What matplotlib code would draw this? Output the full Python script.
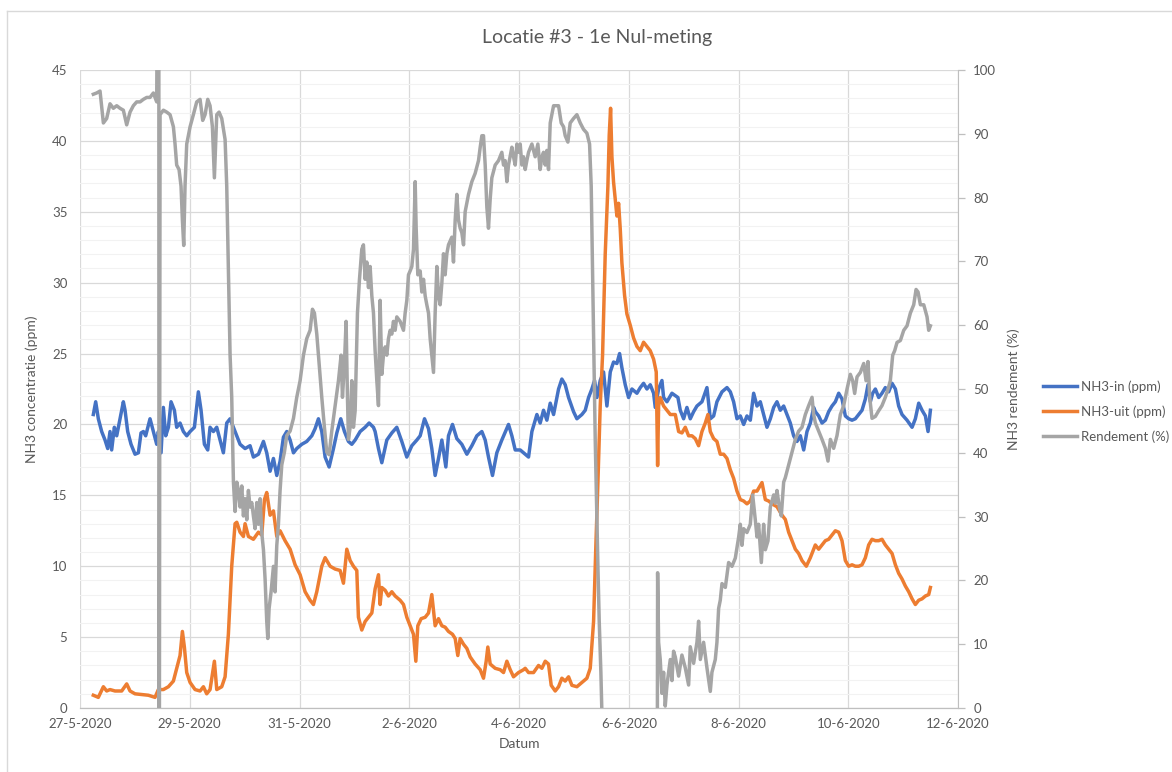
import matplotlib
matplotlib.use("Agg")
import matplotlib.pyplot as plt
from matplotlib.lines import Line2D
from matplotlib.ticker import MultipleLocator, FuncFormatter
import pandas as pd

plt.rcParams['font.family'] = ['Lato', 'DejaVu Sans']

# ---------------------------------------------------------------
# data (days after 27-5-2020 00:00)
# ---------------------------------------------------------------
start = pd.Timestamp('2020-05-27')

t_in = [0.243, 0.286, 0.334, 0.395, 0.456, 0.505, 0.547, 0.577, 0.626, 0.669, 0.729, 0.790, 0.821,
        0.869, 0.930, 1.003, 1.064, 1.112, 1.155, 1.197, 1.276, 1.337, 1.398, 1.428, 1.477, 1.519,
        1.562, 1.611, 1.659, 1.720, 1.762, 1.823, 1.884, 1.945, 2.006, 2.085, 2.157, 2.206, 2.267,
        2.328, 2.370, 2.431, 2.492, 2.552, 2.613,
        2.674, 2.735, 2.826, 2.917, 3.008, 3.099, 3.160, 3.252, 3.343, 3.403, 3.464, 3.525, 3.586,
        3.646, 3.707, 3.768, 3.829, 3.890, 3.950, 4.041, 4.132, 4.224, 4.284, 4.345, 4.406, 4.467,
        4.540, 4.619, 4.680, 4.752, 4.819, 4.892, 4.953, 5.014, 5.105, 5.196, 5.269, 5.348,
        5.378, 5.439, 5.500, 5.591, 5.682, 5.773, 5.864, 5.955, 6.047, 6.138, 6.199, 6.278, 6.351,
        6.411, 6.472, 6.533, 6.594, 6.667, 6.715, 6.788, 6.867, 6.958, 7.050, 7.141, 7.232, 7.323,
        7.384, 7.444, 7.517, 7.596, 7.687, 7.809, 7.870, 7.931, 8.022,
        8.113, 8.174, 8.235, 8.326, 8.386, 8.447, 8.508, 8.569, 8.630, 8.721, 8.781, 8.842, 8.903,
        8.994, 9.055, 9.146, 9.207, 9.268, 9.328, 9.377, 9.420, 9.480, 9.541, 9.602, 9.663, 9.723,
        9.784, 9.833, 9.875, 9.936, 9.997, 10.058, 10.149, 10.210, 10.270, 10.331, 10.392, 10.453,
        10.483, 10.544, 10.605, 10.635, 10.696, 10.787,
        10.896, 10.939, 11.000, 11.060, 11.121, 11.182, 11.243, 11.334, 11.425, 11.486, 11.547,
        11.607, 11.699, 11.790, 11.851, 11.911, 11.972, 12.033, 12.094, 12.154, 12.215, 12.276,
        12.337, 12.397, 12.458, 12.519, 12.580, 12.641, 12.701, 12.762, 12.823, 12.884, 12.944,
        13.005, 13.066, 13.127, 13.188, 13.248, 13.309, 13.370,
        13.400, 13.461, 13.522, 13.583, 13.643, 13.704, 13.765, 13.826, 13.886, 13.947, 14.008,
        14.069, 14.129, 14.190, 14.251, 14.312, 14.360, 14.403, 14.445, 14.494, 14.555, 14.615,
        14.676, 14.737, 14.798, 14.859, 14.919, 14.980, 15.071, 15.163, 15.223, 15.284, 15.345,
        15.406, 15.454, 15.497]
nh3_in = [20.7, 21.6, 20.4, 19.5, 18.9, 18.3, 19.5, 18.2, 19.8, 19.2, 20.4, 21.6, 21.0,
          19.5, 18.6, 17.9, 18.0, 19.4, 19.5, 19.2, 20.4, 19.5, 18.6, 19.5, 18.0, 21.2,
          19.2, 19.8, 21.6, 21.0, 19.8, 20.1, 19.5, 19.2, 19.5, 19.8, 22.3, 21.0, 18.6,
          18.2, 19.8, 19.5, 19.8, 18.9, 18.0,
          20.1, 20.4, 19.5, 18.6, 18.3, 18.5, 17.7, 17.9, 18.8, 18.0, 16.7, 17.6, 16.4,
          17.4, 19.1, 19.5, 18.9, 18.0, 18.3, 18.6, 18.8, 19.2, 19.7, 20.4, 19.5, 17.7,
          17.0, 18.3, 19.4, 20.4, 19.5, 18.8, 18.6, 18.9, 19.5, 19.8, 20.1, 19.8,
          19.5, 18.3, 17.3, 18.9, 19.4, 19.8, 18.8, 17.7, 18.5, 18.9, 19.2, 20.4, 19.7,
          18.3, 16.4, 17.6, 18.9, 17.0, 19.2, 20.0, 19.0, 18.6, 17.9, 18.5, 19.2, 19.5,
          18.9, 17.7, 16.4, 18.0, 18.9, 20.0, 19.2, 18.2, 18.2,
          17.9, 17.7, 19.5, 20.7, 20.1, 21.0, 20.3, 21.5, 20.7, 22.5, 23.2, 22.8, 21.9,
          20.9, 20.4, 20.7, 21.0, 21.9, 22.5, 23.1, 21.9, 23.1, 23.7, 21.3, 23.7, 24.4,
          24.3, 25.0, 24.0, 22.8, 21.9, 22.5, 22.2, 22.6, 22.9, 22.5, 22.8, 22.2,
          21.2, 22.5, 23.1, 21.9, 21.6, 22.2,
          21.9, 21.0, 20.4, 21.2, 20.4, 20.9, 21.3, 21.6, 22.6, 20.4, 20.6,
          21.6, 22.3, 22.6, 22.3, 21.6, 20.4, 20.6, 20.0, 20.6, 20.3, 22.2,
          21.3, 21.6, 20.7, 19.8, 20.4, 21.2, 21.6, 21.0, 21.3, 20.7, 20.1,
          19.2, 18.8, 19.2, 18.2, 19.5, 20.1, 21.2,
          20.9, 20.6, 20.1, 20.3, 20.9, 21.3, 21.6, 22.2, 21.8, 20.6, 20.4,
          20.3, 20.4, 20.7, 21.0, 21.8, 22.8, 21.6, 22.2, 22.5, 21.9, 22.2,
          22.6, 22.3, 22.9, 22.5, 21.3, 20.7, 20.3, 19.8, 20.4, 21.5, 21.0,
          20.6, 19.5, 21.0]

t_uit = [0.243, 0.334, 0.426, 0.486, 0.547, 0.638, 0.760, 0.851, 0.912, 1.003, 1.124, 1.246,
         1.367, 1.428, 1.519, 1.611, 1.702, 1.762, 1.823, 1.866, 1.902, 1.945, 2.006, 2.097,
         2.188, 2.249, 2.309, 2.370, 2.449, 2.492, 2.583,
         2.644, 2.704, 2.765, 2.826, 2.857, 2.917, 2.978, 3.008, 3.069, 3.160, 3.251, 3.312,
         3.361, 3.403, 3.464, 3.525, 3.586, 3.646, 3.737, 3.829, 3.920, 4.011, 4.102, 4.193,
         4.254, 4.315, 4.406, 4.467, 4.558, 4.649, 4.740, 4.801, 4.862, 4.923, 4.983, 5.044,
         5.074, 5.135, 5.196, 5.257, 5.318,
         5.378, 5.439, 5.469, 5.500, 5.561, 5.621, 5.682, 5.743, 5.834, 5.895, 5.956, 6.016,
         6.077, 6.120, 6.156, 6.217, 6.290, 6.351, 6.411, 6.472, 6.533, 6.594, 6.654, 6.715,
         6.788, 6.837, 6.885, 6.928, 6.989, 7.050, 7.110, 7.201, 7.293, 7.353, 7.402, 7.432,
         7.475, 7.566, 7.657, 7.718, 7.779, 7.840, 7.900, 7.991, 8.082,
         8.113, 8.174, 8.265, 8.356, 8.417, 8.478, 8.538, 8.587, 8.660, 8.721, 8.781, 8.842,
         8.903, 8.964, 9.055, 9.146, 9.237, 9.298, 9.359, 9.401, 9.438, 9.480, 9.523, 9.571,
         9.620, 9.644, 9.669, 9.693, 9.723, 9.754, 9.784, 9.815, 9.845, 9.875, 9.924, 9.966,
         10.027, 10.088, 10.149, 10.210, 10.270, 10.331, 10.392, 10.453, 10.501, 10.526,
         10.544, 10.574, 10.635, 10.696, 10.757,
         10.848, 10.909, 10.969, 11.030, 11.091, 11.152, 11.212, 11.273, 11.334, 11.395,
         11.443, 11.486, 11.547, 11.607, 11.668, 11.729, 11.790, 11.851, 11.911, 11.972,
         12.033, 12.094, 12.154, 12.215, 12.276, 12.337, 12.428, 12.489, 12.549, 12.610,
         12.701, 12.793, 12.853, 12.914, 12.975, 13.036, 13.096, 13.157, 13.236, 13.309, 13.370,
         13.400, 13.461, 13.522, 13.583, 13.643, 13.704, 13.765, 13.826, 13.886, 13.947,
         14.008, 14.069, 14.129, 14.190, 14.251, 14.312, 14.372, 14.433, 14.494, 14.555,
         14.615, 14.676, 14.737, 14.798, 14.859, 14.919, 14.980, 15.041, 15.102, 15.163,
         15.223, 15.284, 15.345, 15.406, 15.466, 15.497]
nh3_uit = [0.9, 0.75, 1.5, 1.2, 1.3, 1.2, 1.2, 1.7, 1.2, 1.0, 0.95, 0.9,
           0.75, 1.3, 1.3, 1.5, 1.9, 2.8, 3.7, 5.4, 4.3, 2.5, 1.8, 1.3,
           1.2, 1.5, 1.0, 1.3, 3.3, 1.3, 1.5,
           2.2, 5.2, 10.0, 13.0, 13.1, 12.4, 12.1, 13.0, 12.1, 11.9, 12.4, 12.2,
           14.7, 15.2, 13.6, 13.9, 12.1, 12.5, 11.8, 11.2, 10.1, 9.4, 8.2, 7.6,
           7.3, 8.2, 10.0, 10.6, 10.0, 9.8, 9.7, 8.8, 11.2, 10.4, 10.0, 9.7,
           6.4, 5.5, 6.1, 6.4, 6.7,
           8.4, 9.4, 7.3, 8.5, 8.3, 7.9, 8.2, 7.9, 7.6, 7.3, 6.4, 5.8,
           5.2, 3.3, 5.8, 6.3, 6.4, 6.7, 8.0, 5.8, 6.3, 5.8, 5.7, 5.4,
           5.2, 4.9, 3.7, 4.9, 4.5, 4.2, 3.6, 3.1, 2.7, 2.1, 3.3, 4.3,
           3.1, 2.8, 2.7, 2.5, 3.3, 2.7, 2.2, 2.5, 2.7,
           2.8, 2.5, 2.5, 3.0, 2.8, 3.3, 3.1, 1.6, 1.2, 1.5, 2.1, 1.9,
           2.2, 1.6, 1.5, 1.8, 2.1, 2.8, 6.1, 11.5, 15.9, 21.3, 24.9, 32.0,
           36.8, 40.4, 42.3, 38.9, 37.1, 35.9, 34.7, 35.6, 33.8, 31.4, 29.1, 27.8,
           27.0, 26.1, 25.5, 25.2, 25.8, 25.5, 25.2, 24.6, 23.7, 17.1,
           21.3, 21.9, 21.3, 21.0, 20.7,
           20.7, 19.5, 19.4, 19.8, 19.2, 19.2, 19.0, 18.5, 19.5, 20.1,
           20.7, 19.5, 19.0, 18.8, 17.9, 17.9, 17.6, 16.8, 16.2, 15.3,
           14.7, 14.6, 14.4, 14.6, 15.3, 15.3, 15.9, 14.7, 14.6, 14.4,
           14.2, 13.6, 13.3, 12.4, 11.8, 11.2, 10.9, 10.4, 10.0, 10.6, 11.2,
           11.5, 11.2, 11.5, 11.8, 11.9, 12.2, 12.5, 12.4, 11.8, 10.4,
           10.0, 10.1, 10.0, 10.0, 10.1, 10.6, 11.5, 11.9, 11.8, 11.8,
           11.9, 11.5, 11.2, 10.9, 10.1, 9.5, 9.1, 8.6, 8.2, 7.7,
           7.3, 7.6, 7.7, 7.9, 8.0, 8.5]

# rendement (%); values outside 0-100 run off the axis as in the original
t_rend = [0.243, 0.304, 0.365, 0.426, 0.486, 0.547, 0.608, 0.669, 0.729, 0.790, 0.851, 0.912,
          0.972, 1.033, 1.094, 1.155, 1.216, 1.276, 1.337, 1.398, 1.436, 1.440, 1.459, 1.519,
          1.580, 1.641, 1.702, 1.732, 1.762, 1.805, 1.841, 1.866, 1.890, 1.914, 1.945, 2.006,
          2.066, 2.127, 2.188, 2.236, 2.279, 2.328, 2.370, 2.413, 2.449, 2.492, 2.534, 2.583,
          2.644, 2.674, 2.704, 2.735, 2.765, 2.796, 2.826, 2.857, 2.887, 2.917, 2.948, 2.978,
          3.008, 3.039, 3.069, 3.099, 3.130, 3.160, 3.191, 3.221, 3.251, 3.282, 3.312, 3.343,
          3.373, 3.403, 3.422, 3.446, 3.482, 3.525, 3.555, 3.586, 3.616, 3.646, 3.677, 3.725,
          3.768, 3.829, 3.890, 3.950, 4.011, 4.072, 4.132, 4.193, 4.236, 4.272, 4.315, 4.357,
          4.406, 4.454, 4.497, 4.540, 4.588, 4.649, 4.710, 4.758, 4.783, 4.819, 4.849, 4.874,
          4.892, 4.923, 4.953, 4.983, 5.014, 5.056, 5.093, 5.135, 5.165, 5.196, 5.226, 5.257,
          5.287, 5.318, 5.348,
          5.378, 5.409, 5.439, 5.469, 5.500, 5.530, 5.561, 5.591, 5.621, 5.652, 5.682, 5.712,
          5.743, 5.773, 5.834, 5.895, 5.925, 5.956, 5.986, 6.016, 6.047, 6.077, 6.108, 6.126,
          6.156, 6.199, 6.229, 6.260, 6.290, 6.320, 6.351, 6.381, 6.411, 6.442, 6.472, 6.503,
          6.533, 6.563, 6.594, 6.624, 6.654, 6.685, 6.715, 6.745, 6.776, 6.806, 6.837, 6.867,
          6.897, 6.928, 6.958, 6.989, 7.019, 7.080, 7.141, 7.201, 7.262, 7.293, 7.323, 7.353,
          7.384, 7.414, 7.444, 7.475, 7.505, 7.566, 7.627, 7.687, 7.718, 7.748, 7.779, 7.809,
          7.870, 7.900, 7.931, 7.961, 7.991, 8.022, 8.052, 8.082,
          8.113, 8.143, 8.174, 8.235, 8.295, 8.344, 8.386, 8.417, 8.447, 8.478, 8.508, 8.538,
          8.569, 8.599, 8.630, 8.672, 8.721, 8.769, 8.812, 8.842, 8.891, 8.933, 8.994, 9.055,
          9.116, 9.176, 9.237, 9.286, 9.316, 9.341, 9.365, 9.389, 9.413, 9.438, 9.462, 9.492,
          9.523, 9.600, 10.000, 10.520, 10.526, 10.544, 10.574, 10.605, 10.635, 10.665, 10.696,
          10.726, 10.757, 10.787, 10.817,
          10.848, 10.909, 10.969, 11.030, 11.091, 11.121, 11.182, 11.243, 11.273, 11.304,
          11.364, 11.425, 11.486, 11.516, 11.577, 11.607, 11.638, 11.668, 11.699, 11.760,
          11.790, 11.820, 11.881, 11.942, 12.003, 12.033, 12.063, 12.094, 12.154, 12.215,
          12.258, 12.306, 12.337, 12.367, 12.416, 12.458, 12.489, 12.537, 12.580, 12.641,
          12.671, 12.701, 12.744, 12.780, 12.823, 12.853, 12.914, 12.975, 13.036, 13.096,
          13.157, 13.218, 13.279, 13.340, 13.370,
          13.400, 13.461, 13.522, 13.583, 13.631, 13.674, 13.734, 13.795, 13.856, 13.917,
          13.978, 14.038, 14.081, 14.117, 14.160, 14.221, 14.282, 14.324, 14.360, 14.391,
          14.433, 14.494, 14.555, 14.615, 14.676, 14.725, 14.767, 14.810, 14.846, 14.889,
          14.950, 15.011, 15.071, 15.132, 15.193, 15.236, 15.272, 15.315, 15.376, 15.436,
          15.466, 15.497]
rendement = [96.2, 96.4, 96.7, 91.7, 92.4, 94.7, 94.0, 94.4, 94.0, 93.7, 91.4, 93.4,
             94.4, 95.0, 95.0, 95.4, 95.7, 95.7, 96.4, 95.0, 160.0, -60.0, 93.0, 93.7,
             93.4, 93.0, 91.1, 88.4, 85.1, 84.4, 81.8, 76.5, 72.5, 81.8, 88.4, 91.1,
             93.0, 95.0, 95.4, 92.1, 93.0, 95.4, 94.4, 91.1, 83.1, 93.0, 93.4, 92.4,
             89.1, 81.8, 68.5, 55.3, 48.7, 35.4, 30.8, 35.4, 34.1, 31.5, 34.8, 30.1,
             32.8, 29.5, 34.1, 31.5, 32.2, 30.1, 28.1, 32.2, 28.8, 32.8, 27.5, 24.8,
             20.2, 13.6, 10.9, 15.6, 18.2, 22.2, 18.2, 25.5, 28.8, 34.1, 38.1, 40.1,
             42.7, 43.4, 45.4, 48.7, 51.3, 55.3, 57.9, 59.2, 62.5, 61.9, 58.6, 54.0,
             48.7, 44.0, 40.1, 39.7, 43.4, 47.4, 51.3, 55.3, 48.7, 54.0, 60.6, 48.7,
             42.1, 44.0, 51.3, 44.0, 46.6, 61.9, 67.2, 71.9, 72.6, 67.2, 69.9, 65.9,
             69.2, 64.6, 61.9,
             56.0, 51.3, 47.4, 63.9, 52.3, 55.3, 56.6, 55.3, 57.9, 59.2, 58.6, 60.6,
             59.2, 61.3, 60.6, 59.2, 61.9, 63.9, 67.9, 68.5, 69.2, 71.9, 82.5, 75.2,
             67.9, 68.5, 65.2, 67.2, 64.6, 63.2, 61.9, 57.9, 55.3, 52.6, 61.9, 69.2,
             64.6, 63.2, 66.6, 71.2, 67.9, 71.2, 72.6, 73.2, 73.8, 69.9, 76.5, 80.5,
             76.5, 75.2, 74.5, 72.6, 77.8, 80.5, 82.5, 83.8, 85.8, 87.9, 89.7, 89.7,
             85.1, 78.5, 75.2, 79.8, 83.1, 85.1, 85.8, 87.1, 85.1, 85.8, 82.5, 85.1,
             87.9, 86.4, 85.1, 88.4, 87.1, 88.4, 85.1, 86.4,
             84.4, 85.8, 87.1, 88.4, 86.4, 88.4, 84.4, 86.4, 87.1, 85.1, 87.4, 84.4,
             91.7, 93.0, 94.4, 94.4, 94.4, 91.7, 91.1, 89.7, 88.7, 91.7, 92.4, 93.0,
             91.7, 90.7, 90.1, 88.4, 81.8, 68.5, 55.3, 42.1, 32.1, 22.2, 13.6, 5.6,
             -5.0, -40.0, -60.0, -10.0, 21.2, 10.3, 7.6, 2.3, 5.6, 0.3, 3.6,
             5.6, 7.6, 4.3, 8.9,
             8.0, 5.0, 8.3, 6.3, 3.6, 9.6, 7.0, 10.3, 13.6, 7.6,
             10.3, 6.3, 2.6, 5.6, 7.6, 10.3, 15.6, 16.9, 19.5, 18.9,
             20.9, 22.8, 22.2, 23.5, 26.8, 28.8, 25.5, 28.1, 27.5, 28.8,
             33.4, 29.5, 26.8, 28.8, 22.8, 28.8, 24.8, 26.2, 31.5, 33.4,
             32.1, 34.1, 31.5, 30.1, 35.4, 36.1, 38.1, 40.1, 42.1, 43.4,
             44.0, 46.0, 47.4, 48.7, 46.0,
             44.7, 43.4, 42.1, 40.7, 38.7, 42.1, 40.7, 42.7, 46.0, 47.4,
             50.0, 52.3, 51.3, 49.3, 51.9, 52.6, 54.0, 51.3, 54.3, 48.7,
             45.4, 45.7, 46.6, 47.4, 48.7, 50.0, 51.3, 55.3, 56.0, 57.3,
             57.6, 59.2, 59.9, 61.9, 63.2, 65.6, 65.2, 63.2, 63.2, 61.3,
             59.2, 59.9]

x_ticks = pd.date_range('2020-05-27', '2020-06-12', freq='2D')

# ---------------------------------------------------------------
def to_dates(days):
    return start + pd.to_timedelta(days, unit='D')

blue, orange, grey = '#4472C4', '#ED7D31', '#A5A5A5'
txt = '#595959'

fig = plt.figure(figsize=(11.72, 7.72), dpi=100)
ax = fig.add_axes([80/1172, 1-708/772, 878/1172, 638/772])
ax2 = ax.twinx()

l1, = ax.plot(to_dates(t_in), nh3_in, color=blue, lw=2.5, label='NH3-in (ppm)')
l2, = ax.plot(to_dates(t_uit), nh3_uit, color=orange, lw=2.5, label='NH3-uit (ppm)')
l3, = ax2.plot(to_dates(t_rend), rendement, color=grey, lw=2.5, label='Rendement (%)')

ax.set_xlim(x_ticks[0], x_ticks[-1])
ax.set_ylim(0, 45)
ax2.set_ylim(0, 100)
ax.set_xticks(x_ticks)
ax.xaxis.set_major_formatter(FuncFormatter(
    lambda v, p: '{d.day}-{d.month}-{d.year}'.format(d=matplotlib.dates.num2date(v))))
ax.yaxis.set_major_locator(MultipleLocator(5))
ax.yaxis.set_minor_locator(MultipleLocator(1))
ax2.yaxis.set_major_locator(MultipleLocator(10))

ax.grid(True, which='major', color='#D9D9D9', lw=0.9)
ax.grid(True, which='minor', axis='y', color='#F2F2F2', lw=0.8)
ax.set_axisbelow(True)

for a in (ax, ax2):
    for s in ('top', 'left'):
        a.spines[s].set_visible(False)
    a.spines['bottom'].set_color('#BFBFBF')
    a.spines['right'].set_color('#BFBFBF')
ax.spines['right'].set_visible(False)

ax.tick_params(axis='x', length=0, pad=7, labelsize=9.5, labelcolor=txt)
ax.tick_params(axis='y', which='both', length=0, pad=9, labelsize=9.5, labelcolor=txt)
ax2.tick_params(axis='y', length=5, width=0.9, color='#BFBFBF', pad=6,
                labelsize=9.5, labelcolor=txt)

ax.set_xlabel('Datum', fontsize=10, color=txt, labelpad=6)
ax.set_ylabel('NH3 concentratie (ppm)', fontsize=10, color=txt, labelpad=10)
ax2.set_ylabel('NH3 rendement (%)', fontsize=10, color=txt, labelpad=8)

fig.text(597/1172, 1-38/772, 'Locatie #3 - 1e Nul-meting', ha='center', va='center',
         fontsize=14, color=txt)

fig.legend(handles=[l1, l2, l3], loc='upper left', bbox_to_anchor=(1043/1172, 1-380/772),
           frameon=False, fontsize=9.5, labelcolor=txt, handlelength=2.6,
           handletextpad=0.25, labelspacing=0.95, borderpad=0, borderaxespad=0)

# chart border
fig.add_artist(Line2D([7/1172, 7/1172], [0, 1-11/772], color='#D9D9D9', lw=1))
fig.add_artist(Line2D([7/1172, 1], [1-11/772, 1-11/772], color='#D9D9D9', lw=1))

fig.savefig('out.png', dpi=100)
